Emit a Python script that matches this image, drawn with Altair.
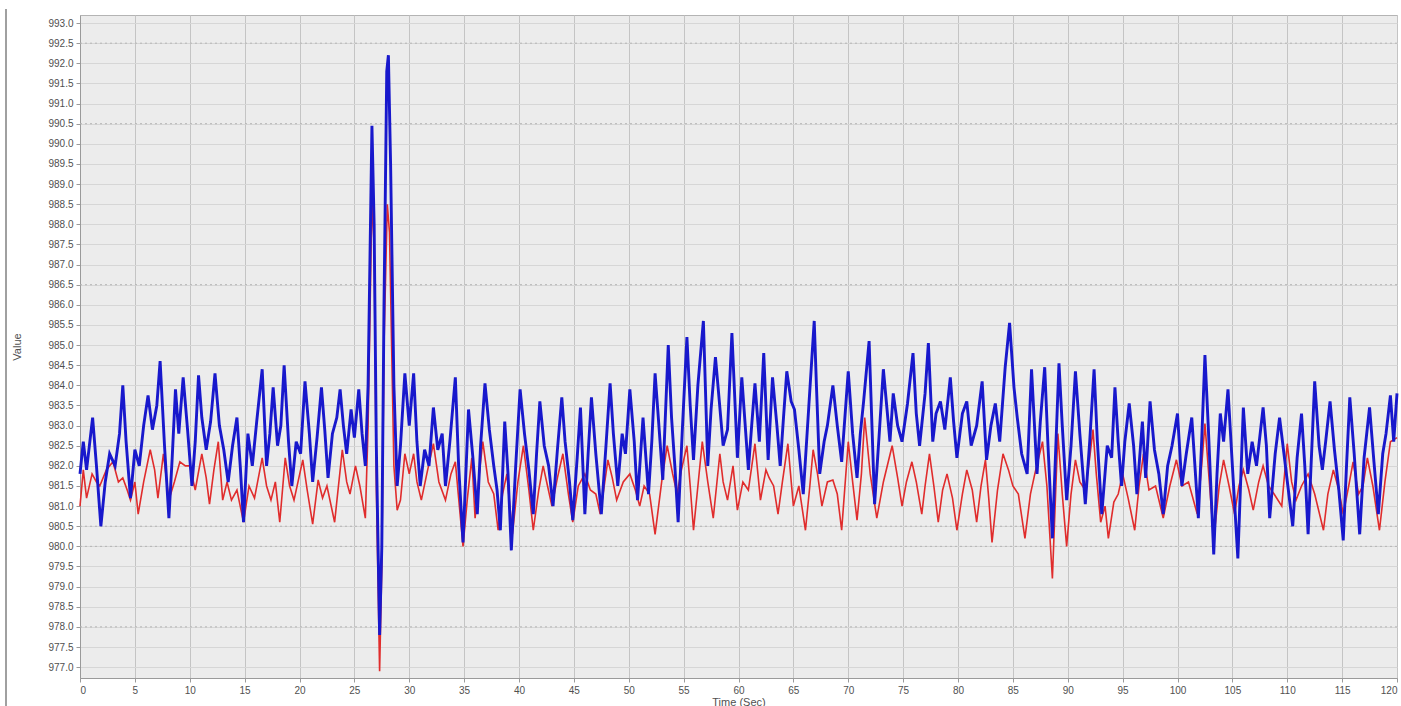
import altair as alt
import pandas as pd

# ---- data ----
blue_time = [
    0.0, 0.3, 0.6, 1.15, 1.5, 1.9, 2.3, 2.7, 3.2, 3.6, 3.9, 4.2, 4.6, 5.0, 5.4, 5.8, 6.2, 6.6, 7.0, 7.3,
    7.7, 8.1, 8.4, 8.7, 9.0, 9.4, 9.8, 10.2, 10.5, 10.8, 11.1, 11.5, 11.9, 12.3, 12.7, 13.1, 13.5, 13.9,
    14.3, 14.6, 14.9, 15.3, 15.7, 16.1, 16.6, 17.0, 17.3, 17.6, 18.0, 18.3, 18.6, 19.0, 19.3, 19.7, 20.1,
    20.5, 20.9, 21.2, 21.6, 22.0, 22.3, 22.6, 23.0, 23.4, 23.7, 24.0, 24.3, 24.7, 25.0, 25.4, 25.7, 26.0,
    26.25, 26.6, 26.8, 27.0, 27.3, 27.5, 27.7, 27.95, 28.1, 28.3, 28.6, 28.9, 29.2, 29.6,
    30.0, 30.4, 30.7, 31.0, 31.4, 31.8, 32.2, 32.6, 33.0, 33.3, 33.7, 34.2, 34.5, 34.9, 35.4, 35.8, 36.2,
    36.5, 36.9, 37.3, 37.7, 38.0, 38.3, 38.7, 39.0, 39.3, 39.7, 40.1, 40.5, 40.9, 41.3, 41.6, 41.9, 42.3,
    42.7, 43.1, 43.5, 43.9, 44.2, 44.6, 44.9, 45.3, 45.6, 46.0, 46.3, 46.6, 47.0, 47.5, 47.9, 48.3, 48.6,
    49.0, 49.4, 49.7, 50.1, 50.5, 50.8, 51.3, 51.8, 52.1, 52.4, 52.8, 53.1, 53.6, 53.9, 54.2, 54.5, 54.9,
    55.3, 55.6, 55.9, 56.3, 56.8, 57.2, 57.5, 57.9, 58.3, 58.6, 59.0, 59.4,
    59.9, 60.3, 60.9, 61.2, 61.5, 61.9, 62.3, 62.7, 63.1, 63.5, 63.8, 64.1, 64.4, 64.8, 65.1, 65.5, 65.9,
    66.4, 66.9, 67.1, 67.4, 67.8, 68.1, 68.6, 69.0, 69.4, 70.0, 70.4, 70.8, 71.1, 71.4, 71.9, 72.4, 72.8,
    73.2, 73.8, 74.1, 74.5, 74.9, 75.4, 75.9, 76.2, 76.5, 77.0, 77.3, 77.7, 78.0, 78.4, 78.8, 79.3, 79.6,
    79.9, 80.4, 80.8, 81.2, 81.7, 82.2, 82.6, 83.0, 83.4, 83.8, 84.3, 84.7, 85.1, 85.4, 85.8, 86.3, 86.7,
    87.2, 87.5, 87.9, 88.2, 88.6, 89.2,
    89.5, 89.9, 90.3, 90.7, 91.1, 91.6, 92.0, 92.4, 92.7, 93.1, 93.6, 94.0, 94.3, 94.6, 94.9, 95.2, 95.6,
    96.0, 96.3, 96.8, 97.1, 97.5, 97.9, 98.3, 98.7, 99.1, 99.5, 100.0, 100.4, 100.8, 101.3, 101.9, 102.2,
    102.5, 102.8, 103.3, 103.6, 103.9, 104.2, 104.6, 105.0, 105.5, 106.0, 106.4, 106.8, 107.2, 107.8,
    108.1, 108.4, 108.9, 109.3, 109.7, 110.1, 110.5, 110.9, 111.3, 111.6, 111.9, 112.5, 112.9, 113.2,
    113.5, 113.9, 114.3, 114.7, 115.1, 115.4, 115.7, 116.1, 116.6, 117.0, 117.5, 117.9, 118.3, 118.7,
    119.0, 119.4, 119.7, 120.0,
]
blue_value = [
    981.8, 982.6, 981.9, 983.2, 982.0, 980.5, 981.6, 982.3, 982.0, 982.8, 984.0, 982.6, 981.2, 982.4, 982.0, 983.0, 983.75, 982.9, 983.5, 984.6,
    982.5, 980.7, 982.2, 983.9, 982.8, 984.2, 982.9, 981.5, 982.6, 984.25, 983.2, 982.4, 983.1, 984.3, 983.0, 982.4, 981.6, 982.5,
    983.2, 982.0, 980.6, 982.8, 982.0, 983.1, 984.4, 982.0, 982.8, 983.95, 982.5, 983.0, 984.5, 982.6, 981.5, 982.6, 982.3,
    984.1, 982.8, 981.6, 982.7, 983.95, 982.9, 981.7, 982.8, 983.2, 983.9, 983.0, 982.3, 983.4, 982.7, 983.9, 982.8, 982.0,
    984.0, 990.45, 988.0, 982.5, 977.8, 980.0, 986.0, 991.8, 992.2, 989.5, 984.0, 981.5, 982.5, 984.3,
    983.0, 984.3, 982.6, 981.5, 982.4, 982.0, 983.45, 982.4, 982.8, 981.5, 982.6, 984.2, 982.0, 980.1, 983.4, 982.2, 980.8,
    982.5, 984.05, 982.9, 982.0, 981.4, 980.4, 983.1, 981.8, 979.9, 982.0, 983.9, 982.8, 981.9, 980.8, 982.3, 983.6, 982.5,
    982.0, 981.0, 982.4, 983.7, 982.6, 981.6, 980.65, 982.2, 983.45, 980.8, 982.3, 983.7, 982.3, 980.8, 982.4, 984.05, 982.8,
    981.5, 982.8, 982.3, 983.9, 982.6, 981.15, 983.2, 981.3, 982.6, 984.3, 982.8, 981.65, 985.0, 983.2, 982.0, 980.6, 983.0,
    985.2, 983.5, 982.15, 984.0, 985.6, 982.0, 983.4, 984.7, 983.45, 982.5, 982.9, 985.3,
    982.2, 984.2, 981.9, 983.0, 984.05, 982.6, 984.8, 982.15, 984.2, 983.0, 982.0, 983.2, 984.35, 983.6, 983.4, 982.4, 981.3,
    983.45, 985.6, 984.0, 981.8, 982.6, 983.0, 984.0, 983.0, 982.1, 984.35, 982.8, 981.7, 982.8, 983.6, 985.1, 981.05, 982.7,
    984.4, 982.6, 983.8, 983.0, 982.6, 983.55, 984.8, 983.3, 982.5, 983.8, 985.05, 982.6, 983.3, 983.6, 982.9, 984.2, 983.1,
    982.2, 983.3, 983.6, 982.5, 983.0, 984.1, 982.15, 983.0, 983.55, 982.6, 984.45, 985.55, 983.95, 983.2, 982.3, 981.8, 984.4,
    981.8, 983.1, 984.45, 982.5, 980.2, 984.55,
    983.0, 981.15, 982.5, 984.35, 982.8, 981.05, 982.6, 984.4, 982.6, 980.8, 982.5, 982.2, 983.95, 982.6, 981.5, 982.6, 983.55,
    982.5, 981.3, 983.1, 981.7, 983.6, 982.4, 981.8, 980.8, 982.0, 982.5, 983.3, 981.5, 982.3, 983.2, 980.7, 982.6,
    984.75, 983.0, 979.8, 981.8, 983.3, 982.6, 983.9, 982.0, 979.7, 983.45, 981.8, 982.6, 982.0, 983.45,
    982.5, 980.7, 982.3, 983.2, 982.3, 981.4, 980.5, 982.2, 983.3, 982.0, 980.3, 984.1, 982.5, 981.9,
    982.6, 983.6, 982.4, 981.4, 980.15, 982.0, 983.7, 982.3, 980.3, 982.2, 983.45, 982.1, 980.8, 982.3,
    982.8, 983.75, 982.6, 983.8,
]

red_time = [
    0.0, 0.3, 0.6, 1.1, 1.5, 1.8, 2.4, 3.0, 3.5, 3.9, 4.3, 4.6, 5.0, 5.3, 5.8, 6.4, 6.8, 7.1, 7.6, 8.1,
    8.6, 9.1, 9.6, 10.0, 10.5, 11.1, 11.5, 11.8, 12.2, 12.6, 13.0, 13.4, 13.8, 14.3, 14.9, 15.4, 15.9,
    16.6, 17.0, 17.4, 17.8, 18.2, 18.7, 19.1, 19.5, 20.3, 20.7, 21.2, 21.7, 22.1, 22.5, 23.2, 23.9, 24.3,
    24.6, 25.1, 25.5, 26.0, 26.25, 26.6, 26.8, 27.0, 27.3, 27.5, 27.7, 28.0, 28.2, 28.6, 28.9, 29.2, 29.6,
    30.0, 30.4, 30.7, 31.1, 31.6, 32.2, 32.7, 33.3, 33.8, 34.2, 34.5, 34.9, 35.3, 35.7, 36.0, 36.3, 36.7,
    37.2, 37.7, 38.1, 38.5, 38.9, 39.4, 39.9, 40.4, 40.9, 41.3, 41.8, 42.2, 42.6, 43.0, 43.5, 44.0, 44.5,
    44.9, 45.4, 46.0, 46.5, 47.0, 47.4, 48.1, 48.5, 48.9, 49.5, 50.1, 50.6, 51.0, 51.4, 51.9, 52.4, 53.0,
    53.5, 54.0, 54.4, 54.8, 55.3, 55.6, 55.9, 56.3, 56.7, 57.2, 57.7, 58.3, 58.6, 59.0,
    59.5, 59.9, 60.4, 60.9, 61.5, 62.0, 62.5, 62.8, 63.2, 63.6, 64.0, 64.5, 65.0, 65.5, 66.1, 66.5, 66.8,
    67.2, 67.6, 68.1, 68.6, 69.0, 69.4, 70.0, 70.4, 70.8, 71.2, 71.5, 72.0, 72.6, 73.2, 74.0, 74.5, 74.9,
    75.3, 75.8, 76.2, 76.7, 77.0, 77.4, 77.8, 78.2, 78.6, 79.0, 79.5, 79.9, 80.4, 80.8, 81.3, 81.7, 82.1,
    82.5, 82.8, 83.1, 83.6, 84.1, 84.6, 85.0, 85.5, 86.1, 86.6, 87.0, 87.7, 88.1, 88.6, 89.1,
    89.5, 89.9, 90.3, 90.7, 91.1, 91.6, 92.0, 92.3, 92.6, 93.0, 93.4, 93.7, 94.2, 94.6, 95.0, 95.5, 96.1,
    96.5, 96.9, 97.4, 98.0, 98.7, 99.3, 99.9, 100.4, 101.0, 101.8, 102.2, 102.5, 102.9, 103.3, 103.8,
    104.2, 104.7, 105.2, 105.6, 106.0, 106.5, 106.9, 107.4, 107.8, 108.3, 108.8, 109.5, 110.0, 110.4,
    110.8, 111.3, 111.9, 112.5, 113.3, 113.7, 114.2, 114.7, 115.1, 115.6, 116.0, 116.5, 116.9, 117.3,
    117.8, 118.4, 118.9, 119.4, 120.0,
]
red_value = [
    981.0, 981.9, 981.2, 981.8, 981.6, 981.5, 981.9, 982.1, 981.6, 981.7, 981.4, 981.15, 981.6, 980.8, 981.6, 982.4, 981.9, 981.2, 982.3, 981.15,
    981.6, 982.1, 982.0, 982.0, 981.4, 982.3, 981.7, 981.05, 981.9, 982.6, 981.15, 981.6, 981.15, 981.4, 980.6, 981.5, 981.2,
    982.2, 981.5, 981.15, 981.6, 980.6, 982.2, 981.5, 981.15, 982.15, 981.4, 980.55, 981.65, 981.2, 981.5, 980.6, 982.4, 981.6,
    981.3, 982.0, 981.5, 980.7, 983.0, 988.6, 987.5, 981.5, 976.9, 979.5, 985.0, 988.5, 987.8, 982.0, 980.9, 981.15, 982.3,
    981.8, 982.3, 981.6, 981.15, 981.8, 982.55, 981.6, 981.15, 981.8, 982.1, 981.2, 980.0, 981.2, 982.2, 980.7, 981.6, 982.6,
    981.6, 981.3, 980.4, 981.3, 981.8, 980.3, 981.6, 982.5, 981.4, 980.4, 981.4, 982.0, 981.5, 981.0, 981.7, 982.3, 981.3,
    980.6, 981.5, 981.8, 981.4, 981.3, 980.8, 982.15, 981.7, 981.15, 981.6, 981.8, 981.4, 981.0, 981.5, 981.3, 980.3, 981.6,
    982.5, 981.8, 981.3, 981.9, 982.5, 981.5, 980.4, 981.5, 982.6, 981.6, 980.7, 982.3, 981.6, 981.15,
    982.0, 980.9, 981.6, 981.4, 982.55, 981.15, 981.9, 981.7, 981.5, 980.8, 981.6, 982.55, 981.0, 981.5, 980.4, 981.5, 982.4,
    981.8, 981.0, 981.6, 981.65, 981.3, 980.4, 982.6, 981.6, 980.65, 981.8, 983.2, 981.8, 980.7, 981.6, 982.5, 981.7, 981.0,
    981.6, 982.1, 981.6, 980.8, 981.5, 982.3, 981.5, 980.6, 981.4, 981.8, 981.2, 980.4, 981.3, 981.9, 981.4, 980.6, 981.5,
    982.15, 981.2, 980.1, 981.4, 982.3, 981.9, 981.5, 981.3, 980.2, 981.3, 981.8, 982.6, 981.5, 979.2, 982.8,
    981.3, 980.0, 981.3, 982.15, 981.6, 981.4, 982.2, 982.9, 981.8, 980.6, 981.0, 980.2, 981.1, 981.3, 981.8, 981.2, 980.4,
    981.5, 982.3, 981.4, 981.5, 980.7, 981.5, 982.15, 981.5, 981.6, 980.8, 982.0, 983.05, 981.6, 980.15, 981.5,
    982.15, 981.5, 980.8, 981.5, 981.9, 981.4, 980.9, 981.6, 982.0, 981.5, 981.3, 981.0, 982.55, 981.6,
    981.15, 981.5, 981.8, 981.3, 980.4, 981.3, 981.9, 981.4, 980.8, 981.5, 982.1, 981.3, 981.5, 982.2,
    981.5, 980.4, 981.6, 982.6, 982.7,
]

x_ticks = [0, 5, 10, 15, 20, 25, 30, 35, 40, 45, 50, 55, 60, 65, 70, 75, 80, 85, 90, 95, 100, 105, 110, 115, 120]
y_ticks = [977.0, 977.5, 978.0, 978.5, 979.0, 979.5, 980.0, 980.5, 981.0, 981.5, 982.0, 982.5, 983.0,
           983.5, 984.0, 984.5, 985.0, 985.5, 986.0, 986.5, 987.0, 987.5, 988.0, 988.5, 989.0, 989.5,
           990.0, 990.5, 991.0, 991.5, 992.0, 992.5, 993.0]
dotted_grid = [992.5, 990.5, 986.5, 980.5, 980.0, 978.0]

series_names = ["Red", "Blue"]
series_colors = ["#e02c2c", "#1818cc"]

df = pd.concat([
    pd.DataFrame({"t": red_time, "v": red_value, "series": "Red", "order": 0}),
    pd.DataFrame({"t": blue_time, "v": blue_value, "series": "Blue", "order": 1}),
])
grid_df = pd.DataFrame({"g": dotted_grid})

W, H = 1317, 663
x_scale = alt.Scale(domain=[0, 120], nice=False, zero=False)
y_scale = alt.Scale(domain=[976.73, 993.2], nice=False, zero=False)

axis_common = dict(
    labelFont="Liberation Sans", labelFontSize=10, labelColor="#505050",
    titleFont="Liberation Sans", titleFontSize=11, titleColor="#505050", titleFontWeight="normal",
    domainColor="#9a9a9a", tickColor="#9a9a9a", tickSize=4, labelPadding=3,
)

x_axis = alt.Axis(title="Time (Sec)", values=x_ticks, gridColor="#c4c4c4", gridWidth=1,
                  titlePadding=1, **axis_common)
y_axis = alt.Axis(title="Value", values=y_ticks, format=".1f", gridColor="#d6d6d6", gridWidth=1,
                  titleX=-58, titleY=H / 2, **axis_common)

lines = alt.Chart(df).mark_line(interpolate="linear").encode(
    x=alt.X("t:Q", scale=x_scale, axis=x_axis),
    y=alt.Y("v:Q", scale=y_scale, axis=y_axis),
    color=alt.Color("series:N", scale=alt.Scale(domain=series_names, range=series_colors), legend=None),
    strokeWidth=alt.StrokeWidth("series:N", scale=alt.Scale(domain=series_names, range=[1.6, 2.9]), legend=None),
    order="order:Q",
    detail="series:N",
)

dotted = alt.Chart(grid_df).mark_rule(color="#b4b4b4", strokeDash=[2, 3], strokeWidth=1).encode(
    y=alt.Y("g:Q", scale=y_scale, axis=y_axis)
)

frame = alt.Chart(grid_df).mark_rule(color="#a0a0a0", strokeWidth=2).encode(
    x=alt.value(-74), y=alt.value(-6), y2=alt.value(H + 28)
)

chart = alt.layer(dotted, lines, frame).properties(
    width=W, height=H,
    padding={"left": 80, "top": 15, "right": 4, "bottom": 28},
    autosize=alt.AutoSizeParams(type="none"),
    background="white",
).configure_view(
    fill="#ececec", stroke="#b4b4b4", strokeWidth=1
)

chart.save("out.html", embed_options={"renderer": "svg", "actions": False})
